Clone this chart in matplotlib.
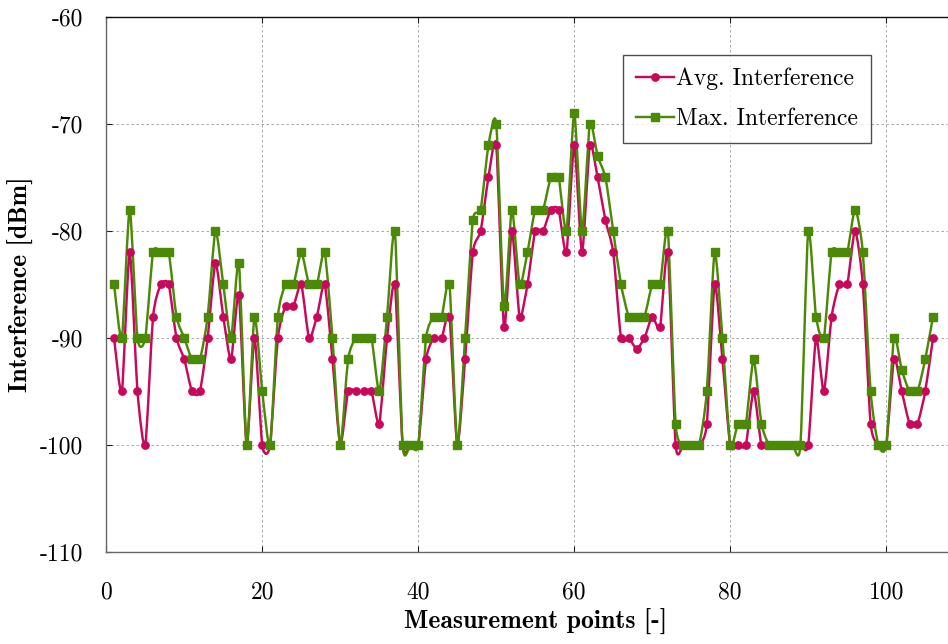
import matplotlib
matplotlib.use("Agg")
import matplotlib.pyplot as plt
from matplotlib.path import Path
from matplotlib.patches import PathPatch
from matplotlib.lines import Line2D
import numpy as np

points = list(range(1, 107))

avg_interference = [
    -90, -95, -82, -95, -100, -88, -85, -85, -90, -92,
    -95, -95, -90, -83, -88, -92, -86, -100, -90, -100,
    -100, -90, -87, -87, -85, -90, -88, -85, -92, -100,
    -95, -95, -95, -95, -98, -90, -85, -100, -100, -100,
    -92, -90, -90, -88, -100, -92, -82, -80, -75, -72,
    -89, -80, -88, -85, -80, -80, -78, -78, -82, -72,
    -82, -72, -75, -79, -82, -90, -90, -91, -90, -88,
    -89, -82, -100, -100, -100, -100, -98, -85, -92, -100,
    -100, -100, -95, -100, -100, -100, -100, -100, -100, -100,
    -90, -95, -88, -85, -85, -80, -85, -98, -100, -100,
    -92, -95, -98, -98, -95, -90,
]

max_interference = [
    -85, -90, -78, -90, -90, -82, -82, -82, -88, -90,
    -92, -92, -88, -80, -85, -90, -83, -100, -88, -95,
    -100, -88, -85, -85, -82, -85, -85, -82, -90, -100,
    -92, -90, -90, -90, -95, -88, -80, -100, -100, -100,
    -90, -88, -88, -85, -100, -90, -79, -78, -72, -70,
    -87, -78, -85, -82, -78, -78, -75, -75, -80, -69,
    -80, -70, -73, -75, -80, -85, -88, -88, -88, -85,
    -85, -80, -98, -100, -100, -100, -95, -82, -90, -100,
    -98, -98, -92, -98, -100, -100, -100, -100, -100, -80,
    -88, -90, -82, -82, -82, -78, -82, -95, -100, -100,
    -90, -93, -95, -95, -92, -88,
]

avg_color = "#c8085a"
max_color = "#4b8a06"

plt.rcParams["font.family"] = ["cmr10", "DejaVu Serif"]
plt.rcParams["mathtext.fontset"] = "cm"


def smooth_path(xs, ys, tension=0.11):
    # cubic bezier through the points, tangent taken from the neighbours
    p = np.column_stack([xs, ys]).astype(float)
    n = len(p)
    tang = np.zeros_like(p)
    tang[1:-1] = p[2:] - p[:-2]
    tang[0] = p[1] - p[0]
    tang[-1] = p[-1] - p[-2]
    verts = [p[0]]
    codes = [Path.MOVETO]
    for i in range(n - 1):
        verts += [p[i] + tension * tang[i], p[i + 1] - tension * tang[i + 1], p[i + 1]]
        codes += [Path.CURVE4] * 3
    return Path(verts, codes)


fig = plt.figure(figsize=(9.48, 6.44), dpi=100)
ax = fig.add_axes([0.1121, 0.1429, 0.905, 0.8307])

series = [
    (avg_interference, avg_color, "o", 5.3, "Avg. Interference"),
    (max_interference, max_color, "s", 5.5, "Max. Interference"),
]
handles = []
for values, color, marker, ms, label in series:
    ax.add_patch(PathPatch(smooth_path(points, values), fill=False,
                           edgecolor=color, lw=1.75, zorder=3))
    ax.plot(points, values, ls="none", marker=marker, ms=ms,
            color=color, zorder=4)
    handles.append(Line2D([], [], color=color, lw=1.75, marker=marker,
                          ms=ms, label=label))

ax.set_xlim(0, 110)
ax.set_ylim(-110, -60)
ax.set_xticks([0, 20, 40, 60, 80, 100])
ax.set_xticklabels(["0", "20", "40", "60", "80", "100"])
yticks = [-110, -100, -90, -80, -70, -60]
ax.set_yticks(yticks)
ax.set_yticklabels([str(t) for t in yticks])
ax.tick_params(direction="in", length=4, width=0.8, labelsize=17,
               top=True, right=False, colors="#222222",
               labelcolor="black")
ax.tick_params(axis="x", pad=21)
ax.tick_params(axis="y", pad=17)
ax.grid(True, ls=(0, (3, 3)), lw=0.6, color="#9a9a9a", zorder=0)

for side in ["left", "bottom"]:
    ax.spines[side].set_color("#666666")
ax.spines["top"].set_color("#111111")
for s in ax.spines.values():
    s.set_linewidth(1.0)

ax.set_xlabel("Measurement points [-]", fontsize=18.5, family="cmb10",
              labelpad=4)
ax.set_ylabel("Interference [dBm]", fontsize=18.5, family="cmb10",
              labelpad=4)

leg = ax.legend(handles=handles, loc="upper left",
                bbox_to_anchor=(623 / 948, 1 - 55 / 644),
                bbox_transform=fig.transFigure, fontsize=17,
                frameon=True, fancybox=False, handlelength=1.6,
                handletextpad=0.1, borderpad=0.55, labelspacing=0.75,
                borderaxespad=0)
leg.get_frame().set_edgecolor("#222222")
leg.get_frame().set_linewidth(1.0)

fig.savefig("out.png", dpi=100)
